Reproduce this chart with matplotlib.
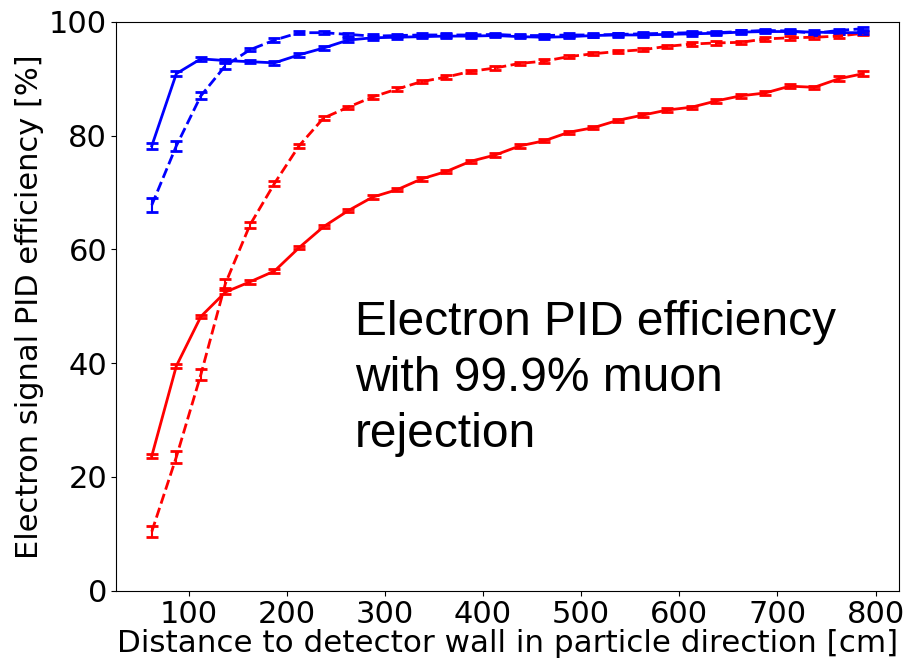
import matplotlib
matplotlib.use("Agg")
import matplotlib.pyplot as plt

# distance to detector wall [cm]
distance = [62.5, 87.5, 112.5, 137.5, 162.5, 187.5, 212.5, 237.5, 262.5, 287.5,
            312.5, 337.5, 362.5, 387.5, 412.5, 437.5, 462.5, 487.5, 512.5, 537.5,
            562.5, 587.5, 612.5, 637.5, 662.5, 687.5, 712.5, 737.5, 762.5, 787.5]

# efficiency [%]
blue_solid = [78.2, 90.9, 93.5, 93.2, 93.0, 92.8, 94.2, 95.4, 96.8, 97.2,
              97.3, 97.4, 97.5, 97.5, 97.6, 97.4, 97.3, 97.4, 97.6, 97.7,
              97.7, 97.8, 97.9, 98.0, 98.2, 98.3, 98.3, 98.2, 98.1, 98.1]
blue_solid_err = [0.5, 0.4, 0.3, 0.3, 0.3, 0.3, 0.3, 0.3, 0.3, 0.3,
                  0.3, 0.3, 0.3, 0.3, 0.3, 0.3, 0.3, 0.3, 0.3, 0.3,
                  0.3, 0.3, 0.3, 0.3, 0.3, 0.3, 0.3, 0.3, 0.3, 0.3]

blue_dashed = [67.8, 78.2, 87.0, 92.3, 95.1, 96.8, 98.1, 98.1, 97.8, 97.5,
               97.6, 97.7, 97.7, 97.7, 97.8, 97.6, 97.6, 97.7, 97.7, 97.8,
               97.9, 98.0, 98.1, 98.1, 98.3, 98.5, 98.4, 98.0, 98.5, 98.8]
blue_dashed_err = [1.3, 0.9, 0.6, 0.5, 0.3, 0.3, 0.3, 0.3, 0.3, 0.3,
                   0.3, 0.3, 0.3, 0.3, 0.3, 0.3, 0.3, 0.3, 0.3, 0.3,
                   0.3, 0.3, 0.3, 0.3, 0.3, 0.3, 0.3, 0.3, 0.3, 0.3]

red_solid = [23.7, 39.5, 48.2, 52.5, 54.3, 56.2, 60.3, 64.0, 66.8, 69.2,
             70.5, 72.4, 73.7, 75.5, 76.6, 78.2, 79.1, 80.6, 81.4, 82.7,
             83.6, 84.5, 85.0, 86.1, 87.0, 87.5, 88.7, 88.5, 90.0, 90.9]
red_solid_err = [0.4, 0.4, 0.3, 0.4, 0.3, 0.3, 0.3, 0.3, 0.3, 0.3,
                 0.3, 0.3, 0.3, 0.3, 0.3, 0.3, 0.3, 0.3, 0.3, 0.3,
                 0.3, 0.3, 0.3, 0.3, 0.3, 0.3, 0.3, 0.3, 0.4, 0.4]

red_dashed = [10.4, 23.5, 38.0, 54.0, 64.3, 71.6, 78.2, 83.1, 85.0, 86.8,
              88.2, 89.5, 90.3, 91.3, 91.9, 92.7, 93.1, 93.9, 94.4, 94.8,
              95.1, 95.7, 96.1, 96.3, 96.4, 97.0, 97.2, 97.3, 97.5, 98.0]
red_dashed_err = [1.0, 1.0, 1.0, 0.8, 0.5, 0.4, 0.3, 0.3, 0.3, 0.3,
                  0.3, 0.3, 0.3, 0.3, 0.3, 0.3, 0.3, 0.3, 0.3, 0.3,
                  0.3, 0.3, 0.3, 0.3, 0.3, 0.3, 0.3, 0.3, 0.3, 0.3]

fig = plt.figure(figsize=(9.08, 6.63), dpi=100)
ax = fig.add_axes([0.128, 0.109, 0.862, 0.858])

style = dict(lw=2, capsize=4, capthick=2, elinewidth=1.5)
ax.errorbar(distance, red_solid, yerr=red_solid_err, color="red", ls="-", **style)
ax.errorbar(distance, red_dashed, yerr=red_dashed_err, color="red", ls="--", **style)
ax.errorbar(distance, blue_solid, yerr=blue_solid_err, color="blue", ls="-", **style)
ax.errorbar(distance, blue_dashed, yerr=blue_dashed_err, color="blue", ls="--", **style)

ax.set_ylim(0, 100)
ax.set_xticks([100, 200, 300, 400, 500, 600, 700, 800])
ax.set_yticks([0, 20, 40, 60, 80, 100])
ax.tick_params(labelsize=22, pad=3)
ax.set_xlabel("Distance to detector wall in particle direction [cm]", fontsize=22.3, labelpad=0)
ax.set_ylabel("Electron signal PID efficiency [%]", fontsize=22, labelpad=4)

fig.text(355 / 908, 1 - 300 / 663, "Electron PID efficiency\nwith 99.9% muon\nrejection",
         fontsize=34.5, family="Liberation Sans", va="top", ha="left", linespacing=1.32)

fig.savefig("out.png", dpi=100)
